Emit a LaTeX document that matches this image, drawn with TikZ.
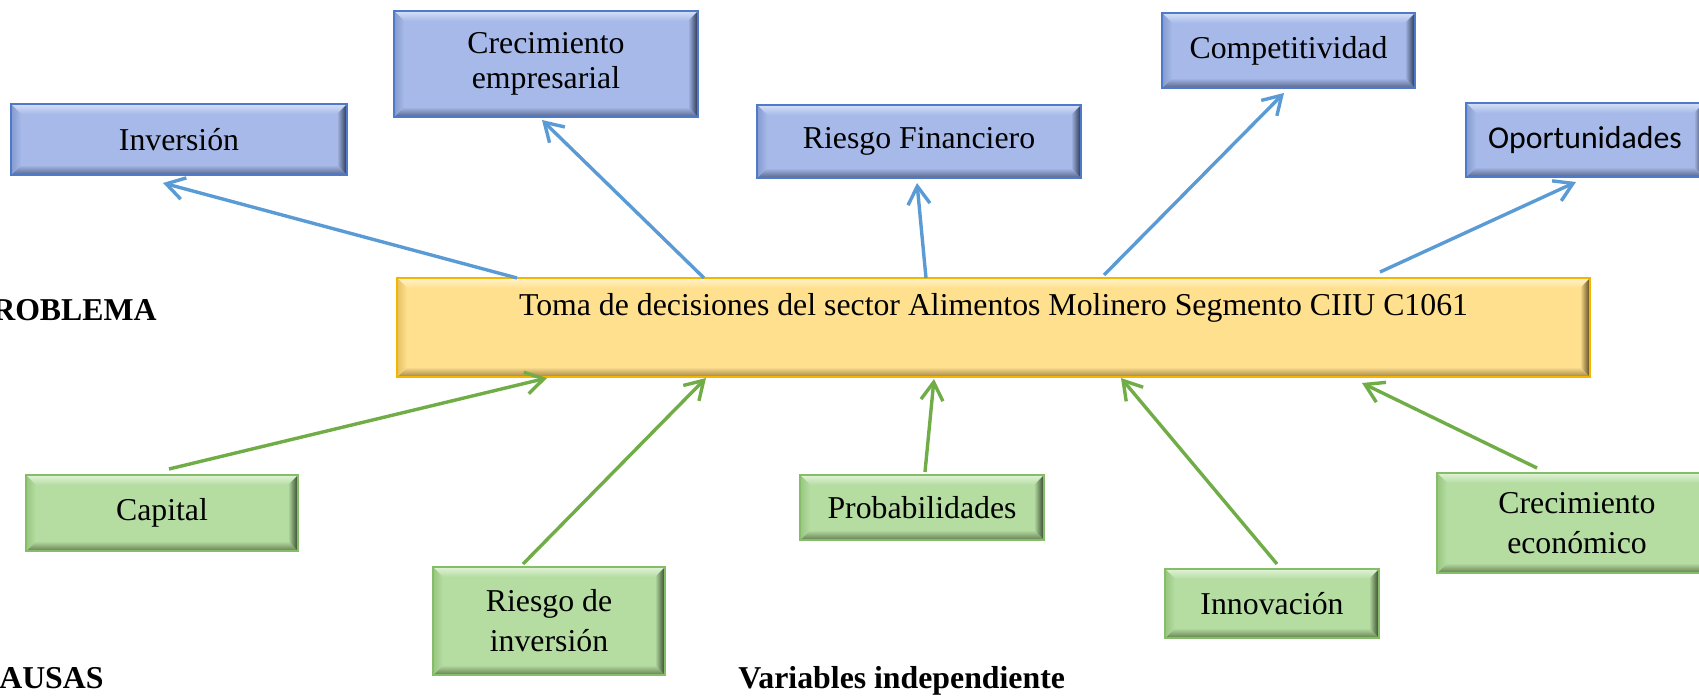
\documentclass[tikz,border=0pt]{standalone}
\usepackage{fontspec}
\setmainfont{Liberation Serif}
\newfontfamily\calibrifont{Carlito}
\usetikzlibrary{calc,arrows.meta}

\definecolor{bBase}{HTML}{A6B9E8}
\definecolor{bLight}{HTML}{D6E0F8}
\definecolor{bDark}{HTML}{55658C}
\definecolor{bSide}{HTML}{26324D}
\definecolor{bLeft}{HTML}{849AD0}
\definecolor{bBorder}{HTML}{4E7AC7}

\definecolor{gBase}{HTML}{B5DDA2}
\definecolor{gLight}{HTML}{E0F3D6}
\definecolor{gDark}{HTML}{647F50}
\definecolor{gSide}{HTML}{33442A}
\definecolor{gLeft}{HTML}{97C680}
\definecolor{gBorder}{HTML}{86BD68}

\definecolor{yBase}{HTML}{FFE08E}
\definecolor{yLight}{HTML}{FFF3CC}
\definecolor{yDark}{HTML}{A08244}
\definecolor{ySide}{HTML}{54421A}
\definecolor{yLeft}{HTML}{E6C062}
\definecolor{yBorder}{HTML}{F2B600}

\definecolor{aBlue}{HTML}{5B9BD5}
\definecolor{aGreen}{HTML}{70AD47}

\newcommand{\bevelfill}[5]{%
  \path (path picture bounding box.north west) coordinate (q1)
        (path picture bounding box.north east) coordinate (q2)
        (path picture bounding box.south east) coordinate (q3)
        (path picture bounding box.south west) coordinate (q4);
  \shade[top color=#2,bottom color=#1] (q1) -- (q2) -- ($(q2)+(-10,10)$) -- ($(q1)+(10,10)$) -- cycle;
  \shade[top color=#1,bottom color=#3] (q4) -- (q3) -- ($(q3)+(-10,-10)$) -- ($(q4)+(10,-10)$) -- cycle;
  \shade[left color=#1,right color=#4] (q2) -- (q3) -- ($(q3)+(-10,-10)$) -- ($(q2)+(-10,10)$) -- cycle;
  \shade[left color=#5,right color=#1] (q1) -- (q4) -- ($(q4)+(10,-10)$) -- ($(q1)+(10,10)$) -- cycle;
}

\tikzset{
  x=0.5pt, y=-0.5pt,
  boxbase/.style={draw, line width=0.7pt, inner sep=2pt, outer sep=0pt, align=center,
    font=\fontsize{15.9pt}{17.5pt}\selectfont},
  bluebox/.style={boxbase, draw=bBorder, fill=bBase,
    path picture={\bevelfill{bBase}{bLight}{bDark}{bSide}{bLeft}}},
  greenbox/.style={boxbase, draw=gBorder, fill=gBase,
    font=\fontsize{15.9pt}{20pt}\selectfont,
    path picture={\bevelfill{gBase}{gLight}{gDark}{gSide}{gLeft}}},
  yellowbox/.style={boxbase, draw=yBorder, fill=yBase,
    path picture={\bevelfill{yBase}{yLight}{yDark}{ySide}{yLeft}}},
  blueconn/.style={draw=aBlue, line width=1.7pt,
    -{Straight Barb[length=9pt,width=11pt,line width=1.7pt]}},
  greenconn/.style={draw=aGreen, line width=1.7pt,
    -{Straight Barb[length=9pt,width=11pt,line width=1.7pt]}},
  heading/.style={font=\bfseries\fontsize{15.9pt}{17.5pt}\selectfont, inner sep=0pt}
}

\begin{document}
\begin{tikzpicture}
\useasboundingbox (0,0) rectangle (1699,696);
\clip (0,0) rectangle (1699,696);

% central
\node[yellowbox, minimum width=596.5pt, minimum height=49.5pt] (central) at (993.5,327.5)
  {Toma de decisiones del sector Alimentos Molinero Segmento CIIU C1061\\\strut};

% top (blue)
\node[bluebox, minimum width=168pt, minimum height=35.5pt] (inv) at (179,139.5) {Inversión};
\node[bluebox, minimum width=152pt, minimum height=53pt] (crecemp) at (546,64) {Crecimiento\\empresarial};
\node[bluebox, minimum width=162pt, minimum height=36.5pt] (riesgofin) at (919,141.5) {Riesgo Financiero};
\node[bluebox, minimum width=126.5pt, minimum height=37.5pt] (comp) at (1288.5,50.5) {Competitividad};
\node[bluebox, minimum width=119pt, minimum height=37pt, font=\calibrifont\fontsize{15.9pt}{17.5pt}\selectfont] (oport) at (1585,140) {Oportunidades};

% bottom (green)
\node[greenbox, minimum width=136pt, minimum height=38pt] (capital) at (162,513) {Capital};
\node[greenbox, minimum width=116pt, minimum height=54pt] (rinv) at (549,621) {Riesgo de\\inversión};
\node[greenbox, minimum width=122pt, minimum height=32.5pt] (prob) at (922,507.5) {Probabilidades};
\node[greenbox, minimum width=107pt, minimum height=34.5pt] (innov) at (1272,603.5) {Innovación};
\node[greenbox, minimum width=140pt, minimum height=50pt] (crecec) at (1577,523) {Crecimiento\\económico};

% headings (cut off at the left edge, as in the reference)
\node[heading, anchor=base east] (problema) at (157,320) {PROBLEMA};
\node[heading, anchor=base east] (causas) at (104,688) {CAUSAS};
\node[heading, anchor=base west] (varind) at (738,688) {Variables independiente};

% blue connectors
\draw[blueconn] ($(central.north west)+(120,0)$) -- ($(inv.south west)+(152,8)$);
\draw[blueconn] ($(central.north west)+(307,0)$) -- ($(crecemp.south west)+(148,3)$);
\draw[blueconn] ($(central.north west)+(529,0)$) -- ($(riesgofin.south west)+(160,5)$);
\draw[blueconn] ($(central.north west)+(707,-3)$) -- ($(comp.south west)+(122,5)$);
\draw[blueconn] ($(central.north west)+(983,-6)$) -- ($(oport.south west)+(110,5)$);

% green connectors
\draw[greenconn] ($(capital.north west)+(143,-6)$) -- ($(central.south west)+(150,1)$);
\draw[greenconn] ($(rinv.north west)+(90,-3)$) -- ($(central.south west)+(309,1)$);
\draw[greenconn] ($(prob.north west)+(125,-3)$) -- ($(central.south west)+(537,2)$);
\draw[greenconn] ($(innov.north west)+(112,-5)$) -- ($(central.south west)+(724,1)$);
\draw[greenconn] ($(crecec.north west)+(100,-5)$) -- ($(central.south west)+(965,6)$);
\end{tikzpicture}
\end{document}
